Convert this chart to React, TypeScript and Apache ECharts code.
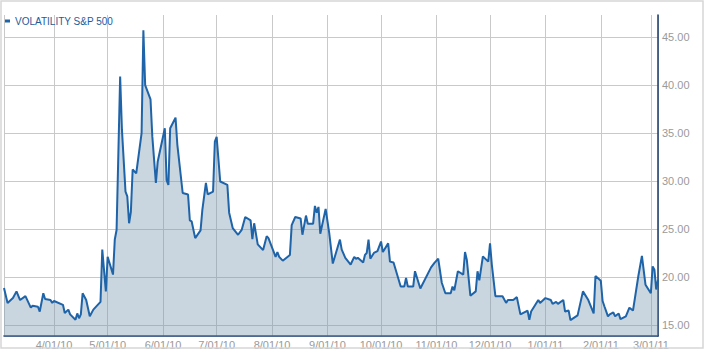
import React, { useEffect, useRef } from "react";
import * as echarts from "echarts";

const seriesName = "VOLATILITY S&P 500";

const dates: string[] = [
  "2010-03-04","2010-03-06","2010-03-09","2010-03-11","2010-03-13","2010-03-16","2010-03-19","2010-03-20","2010-03-23","2010-03-24","2010-03-26","2010-03-27","2010-03-30","2010-03-31",
  "2010-04-01","2010-04-06","2010-04-07","2010-04-09","2010-04-10","2010-04-13","2010-04-14","2010-04-15","2010-04-16","2010-04-17","2010-04-19","2010-04-21","2010-04-23","2010-04-27","2010-04-28","2010-04-30",
  "2010-05-01","2010-05-04","2010-05-05","2010-05-06","2010-05-08","2010-05-09","2010-05-11","2010-05-12","2010-05-13","2010-05-14","2010-05-15","2010-05-17","2010-05-20","2010-05-21","2010-05-22","2010-05-25","2010-05-26","2010-05-28","2010-05-29",
  "2010-06-02","2010-06-03","2010-06-04","2010-06-05","2010-06-08","2010-06-09","2010-06-12","2010-06-15","2010-06-16","2010-06-17","2010-06-19","2010-06-22","2010-06-23","2010-06-25","2010-06-26","2010-06-29","2010-06-30",
  "2010-07-01","2010-07-03","2010-07-07","2010-07-08","2010-07-10","2010-07-13","2010-07-15","2010-07-17","2010-07-20","2010-07-21","2010-07-22","2010-07-24","2010-07-27","2010-07-29","2010-07-30",
  "2010-08-03","2010-08-04","2010-08-05","2010-08-07","2010-08-11","2010-08-12","2010-08-14","2010-08-17","2010-08-18","2010-08-20","2010-08-21","2010-08-24","2010-08-25","2010-08-26","2010-08-27","2010-08-28","2010-08-31",
  "2010-09-02","2010-09-04","2010-09-08","2010-09-09","2010-09-11","2010-09-14","2010-09-16","2010-09-17","2010-09-18","2010-09-21","2010-09-22","2010-09-23","2010-09-24","2010-09-25","2010-09-27","2010-09-29",
  "2010-10-01","2010-10-02","2010-10-05","2010-10-06","2010-10-08","2010-10-12","2010-10-14","2010-10-15","2010-10-16","2010-10-19","2010-10-20","2010-10-23","2010-10-29","2010-10-31",
  "2010-11-02","2010-11-04","2010-11-06","2010-11-09","2010-11-10","2010-11-11","2010-11-13","2010-11-16","2010-11-17","2010-11-18","2010-11-20","2010-11-23","2010-11-24","2010-11-25","2010-11-27","2010-11-30",
  "2010-12-01","2010-12-02","2010-12-04","2010-12-08","2010-12-10","2010-12-11","2010-12-14","2010-12-16","2010-12-18","2010-12-21","2010-12-22","2010-12-23","2010-12-24","2010-12-28","2010-12-29",
  "2011-01-01","2011-01-04","2011-01-05","2011-01-07","2011-01-08","2011-01-11","2011-01-12","2011-01-14","2011-01-15","2011-01-19","2011-01-22","2011-01-25","2011-01-28","2011-01-29",
  "2011-02-01","2011-02-02","2011-02-03","2011-02-05","2011-02-06","2011-02-08","2011-02-09","2011-02-11","2011-02-12","2011-02-15","2011-02-17","2011-02-19","2011-02-22","2011-02-24","2011-02-26",
  "2011-03-01","2011-03-02","2011-03-03","2011-03-04","2011-03-05",
];

const values: number[] = [
  18.85,17.3,17.8,18.5,17.6,18.0,16.8,17.0,16.9,16.4,18.3,17.7,17.6,17.3,
  17.5,17.1,16.25,16.6,16.1,15.55,16.2,15.7,16.1,18.3,17.6,15.9,16.6,17.4,22.85,18.5,
  22.1,20.25,23.9,24.9,40.9,35.35,28.9,28.4,25.6,26.8,31.2,30.8,35.0,45.7,40.0,38.5,34.65,29.8,32.0,
  35.5,30.1,29.6,35.5,36.6,33.8,28.75,28.6,25.9,25.8,24.05,24.85,27.0,29.8,28.6,28.9,34.1,
  34.6,29.95,29.6,26.7,25.1,24.4,24.9,26.25,25.9,23.95,25.6,23.4,22.8,24.25,24.05,
  22.1,22.6,22.1,21.7,22.3,25.4,26.25,26.1,24.4,26.4,25.55,25.55,27.4,26.7,27.3,24.5,27.1,
  24.6,21.4,23.9,22.85,22.0,21.3,22.1,21.9,22.0,21.5,22.3,22.5,23.9,21.9,22.5,22.7,
  23.7,22.6,23.5,21.6,21.5,19.0,19.0,19.9,19.0,19.0,20.6,18.8,21.0,21.5,
  21.9,19.4,18.3,18.3,19.0,18.6,20.6,20.25,22.6,21.8,18.05,18.5,20.6,19.65,22.15,21.6,
  23.5,21.3,18.0,18.0,17.3,17.6,17.6,17.9,16.1,16.4,16.5,15.55,16.4,17.6,17.3,
  17.8,17.6,17.2,17.4,17.2,17.6,16.4,16.5,15.5,16.0,18.5,17.6,16.2,20.1,
  19.6,17.5,16.95,15.9,16.1,16.3,15.9,16.2,15.6,15.9,16.8,16.5,20.1,22.2,19.2,
  18.3,21.1,20.75,18.7,19.7,
];

const xMin = "2010-03-04";
const xMax = "2011-03-05";
const yMin = 13.85;
const yMax = 47.3;

const FONT = "Liberation Sans, Arial, sans-serif";

export default function App() {
  const ref = useRef<HTMLDivElement>(null);
  useEffect(() => {
    document.body.style.margin = "0";
    if (!ref.current) return;
    const chart = echarts.init(ref.current, undefined, { renderer: "svg" });
    const data = dates.map((d, i) => [d, values[i]]);
    chart.setOption({
      animation: false,
      backgroundColor: "#ffffff",
      grid: { left: 4, right: 46, top: 15, bottom: 15, containLabel: false },
      legend: {
        data: [seriesName],
        left: 5,
        top: 15,
        padding: 0,
        icon: "rect",
        itemWidth: 5,
        itemHeight: 3,
        selectedMode: false,
        textStyle: { color: "#1d5c9c", fontSize: 10, fontFamily: FONT, lineHeight: 12 },
      },
      xAxis: {
        type: "time",
        min: xMin,
        max: xMax,
        splitNumber: 12,
        minInterval: 28 * 86400000,
        maxInterval: 30 * 86400000,
        axisLine: { show: true, lineStyle: { color: "#16396b", width: 1.5 } },
        axisTick: { show: false },
        splitLine: { show: true, lineStyle: { color: "#c9c9c9", width: 1 } },
        axisLabel: {
          color: "#9a9a9a",
          fontSize: 11,
          fontFamily: FONT,
          margin: 3,
          hideOverlap: false,
          formatter: (v: number) => {
            const d = new Date(v);
            return `${d.getMonth() + 1}/${String(d.getDate()).padStart(2, "0")}/${String(d.getFullYear()).slice(2)}`;
          },
        },
      },
      yAxis: {
        type: "value",
        position: "right",
        min: yMin,
        max: yMax,
        splitNumber: 5,
        axisLine: { show: true, lineStyle: { color: "#16396b", width: 1.5 } },
        axisTick: { show: false },
        splitLine: {
          show: true,
          showMinLine: false,
          showMaxLine: false,
          lineStyle: { color: "#c9c9c9", width: 1 },
        },
        axisLabel: {
          showMinLabel: false,
          showMaxLabel: false,
          color: "#9a9a9a",
          fontSize: 11,
          fontFamily: FONT,
          margin: 4,
          formatter: (v: number) => v.toFixed(2),
        },
      },
      graphic: [
        {
          type: "rect",
          shape: { x: 1, y: 1, width: 702, height: 347 },
          style: { fill: "none", stroke: "#d6d6d6", lineWidth: 1.5 },
          silent: true,
          z: 100,
        },
      ],
      series: [
        {
          name: seriesName,
          type: "line",
          data,
          symbol: "none",
          color: "#1f64a8",
          lineStyle: { color: "#1f64a8", width: 2 },
          areaStyle: { color: "rgba(120,150,175,0.4)", opacity: 1 },
        },
      ],
    });
    return () => chart.dispose();
  }, []);
  return <div ref={ref} style={{ width: 704, height: 351 }} />;
}
